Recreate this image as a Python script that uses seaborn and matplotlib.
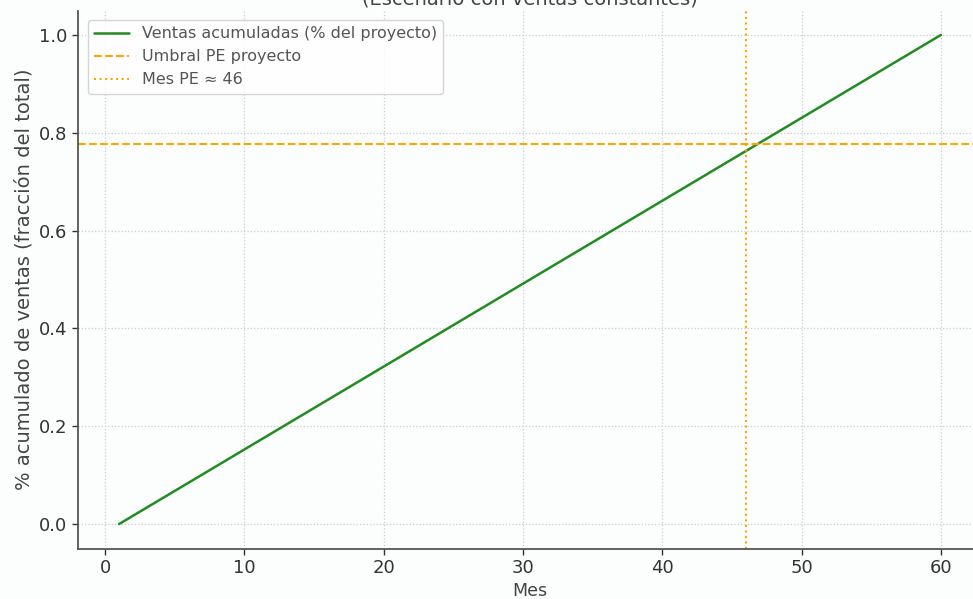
import matplotlib
matplotlib.use("Agg")
import matplotlib.pyplot as plt
import seaborn as sns
import pandas as pd

# Data
meses = [1, 60]
ventas_acum = [0.0, 1.0]
umbral_pe = 0.778
mes_pe = 46

titulo = "Curva de ventas acumuladas vs. punto de equilibrio\n(Escenario con ventas constantes)"
label_linea = "Ventas acumuladas (% del proyecto)"
label_umbral = "Umbral PE proyecto"
label_mes = f"Mes PE ≈ {mes_pe}"

sns.set_theme(style="whitegrid")
plt.rcParams["font.family"] = ["DejaVu Sans"]

fig = plt.figure(figsize=(9.73, 5.99), dpi=100)
ax = fig.add_axes([78 / 973, (599 - 548.5) / 599, 904 / 973, 538 / 599])

df = pd.DataFrame({"Mes": meses, "Ventas": ventas_acum})
sns.lineplot(data=df, x="Mes", y="Ventas", ax=ax, color="#228B22", linewidth=1.8,
             label=label_linea)
ax.axhline(umbral_pe, color="#FFA500", linestyle="--", linewidth=1.5, label=label_umbral)
ax.axvline(mes_pe, color="#FFA500", linestyle=":", linewidth=1.5, label=label_mes)

ax.set_xlim(-1.95, 62.95)
ax.set_ylim(-0.05, 1.05)
ax.set_xticks([0, 10, 20, 30, 40, 50, 60])
ax.set_yticks([0.0, 0.2, 0.4, 0.6, 0.8, 1.0])
ax.set_yticklabels(["0.0", "0.2", "0.4", "0.6", "0.8", "1.0"])

ax.set_xlabel("Mes", fontsize=12.5, color="#444444", labelpad=4)
ax.set_ylabel("% acumulado de ventas (fracción del total)", fontsize=14, color="#444444")
ax.set_title(titulo, fontsize=14, color="#444444", pad=4)

ax.set_facecolor("#fcfdfd")
fig.patch.set_facecolor("#fcfdfd")
ax.grid(True, linestyle=":", color="#cccccc", linewidth=0.9)
for s in ["top", "right"]:
    ax.spines[s].set_visible(False)
for s in ["left", "bottom"]:
    ax.spines[s].set_color("#555555")
    ax.spines[s].set_linewidth(1.3)
ax.tick_params(axis="both", labelsize=13, colors="#333333", length=4, width=1,
               left=True, bottom=True, direction="out")

leg = ax.legend(loc="upper left", fontsize=11.5, frameon=True, borderaxespad=0.6,
                handlelength=2.2)
leg.get_frame().set_edgecolor("#cccccc")
for t in leg.get_texts():
    t.set_color("#555555")

fig.savefig("out.png", dpi=100, facecolor=fig.get_facecolor())
